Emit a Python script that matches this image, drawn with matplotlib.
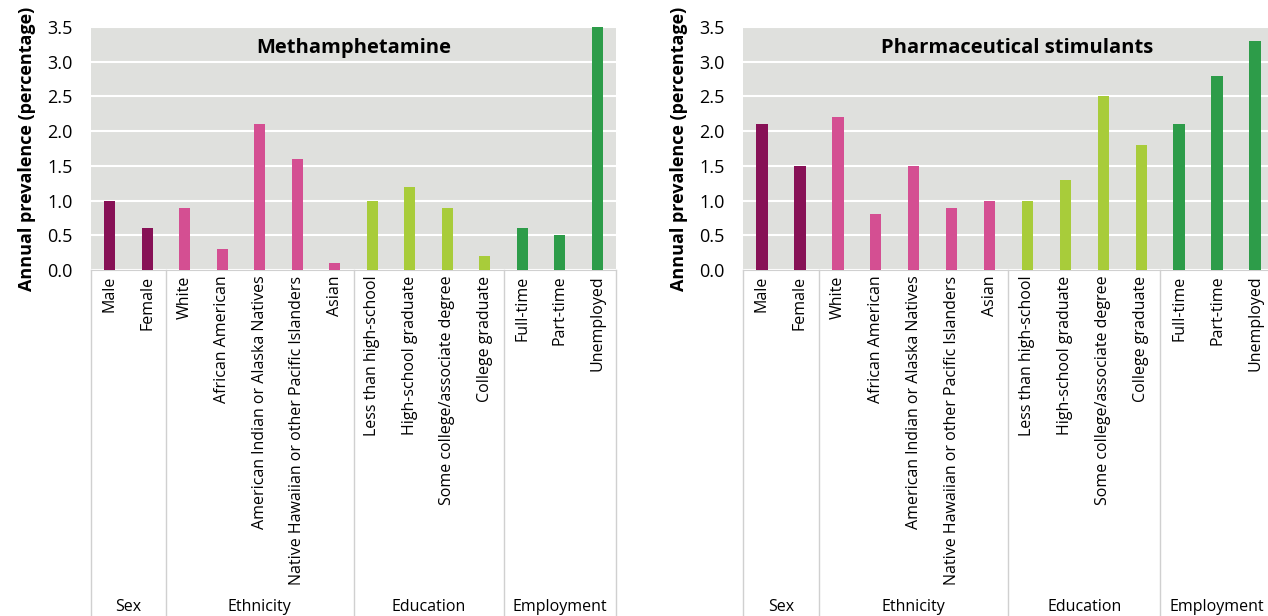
import matplotlib
matplotlib.use('Agg')
import matplotlib.pyplot as plt
import matplotlib.transforms as mtransforms

plt.rcParams['font.family'] = ['Open Sans', 'DejaVu Sans']

categories = ['Male', 'Female', 'White', 'African American',
              'American Indian or Alaska Natives',
              'Native Hawaiian or other Pacific Islanders', 'Asian',
              'Less than high-school', 'High-school graduate',
              'Some college/associate degree', 'College graduate',
              'Full-time', 'Part-time', 'Unemployed']
groups = ['Sex', 'Ethnicity', 'Education', 'Employment']
group_sizes = [2, 5, 4, 3]
group_colors = ['#871156', '#d44f92', '#a8cc3a', '#2d9c49']

meth = [1.0, 0.6, 0.9, 0.3, 2.1, 1.6, 0.1, 1.0, 1.2, 0.9, 0.2, 0.6, 0.5, 3.5]
pharma = [2.1, 1.5, 2.2, 0.8, 1.5, 0.9, 1.0, 1.0, 1.3, 2.5, 1.8, 2.1, 2.8, 3.3]
titles = ['Methamphetamine', 'Pharmaceutical stimulants']

colors = []
for c, n in zip(group_colors, group_sizes):
    colors += [c] * n

fig = plt.figure(figsize=(12.68, 6.16), dpi=100)
W, H = 1268, 616
panels = [(91, 616), (743, 1274)]
title_x = [0.5, 0.516]
top, bottom = 27, 270

for (x0, x1), vals, title, tx in zip(panels, [meth, pharma], titles, title_x):
    ax = fig.add_axes([x0 / W, 1 - bottom / H, (x1 - x0) / W, (bottom - top) / H])
    ax.set_facecolor('#dfe0dd')
    x = range(len(categories))
    ax.bar(x, vals, width=0.3, color=colors, zorder=3)
    ax.set_xlim(-0.5, len(categories) - 0.5)
    ax.set_ylim(0, 3.5)
    ax.set_yticks([0, 0.5, 1.0, 1.5, 2.0, 2.5, 3.0, 3.5])
    ax.set_yticklabels(['%.1f' % v for v in ax.get_yticks()], fontsize=13)
    ax.grid(axis='y', color='white', linewidth=1.5, zorder=0)
    ax.set_axisbelow(True)
    for s in ['top', 'right', 'left']:
        ax.spines[s].set_visible(False)
    ax.spines['bottom'].set_color('#d0d0d0')
    ax.tick_params(axis='y', length=0, pad=13)
    ax.set_xticks(list(x))
    ax.set_xticklabels(categories, rotation=90, fontsize=11.5, va='top', ha='center')
    ax.tick_params(axis='x', length=0, pad=4)
    ax.text(tx, 0.915, title, transform=ax.transAxes, ha='center', va='center',
            fontsize=14.5, fontweight='bold')
    ax.set_ylabel('Annual prevalence (percentage)', fontsize=13, fontweight='bold',
                  labelpad=8)

    trans = mtransforms.blended_transform_factory(ax.transData, ax.transAxes)
    depth = -(H - bottom) / (bottom - top)
    edges = [-0.5]
    for n in group_sizes:
        edges.append(edges[-1] + n)
    for e in edges:
        ax.plot([e, e], [0, depth], transform=trans, color='#d0d0d0',
                linewidth=1, clip_on=False)
    for i, g in enumerate(groups):
        mid = (edges[i] + edges[i + 1]) / 2
        ax.text(mid, (bottom - 607) / (bottom - top), g, transform=trans,
                ha='center', va='center', fontsize=11.5)

fig.savefig('out.png', dpi=100)
